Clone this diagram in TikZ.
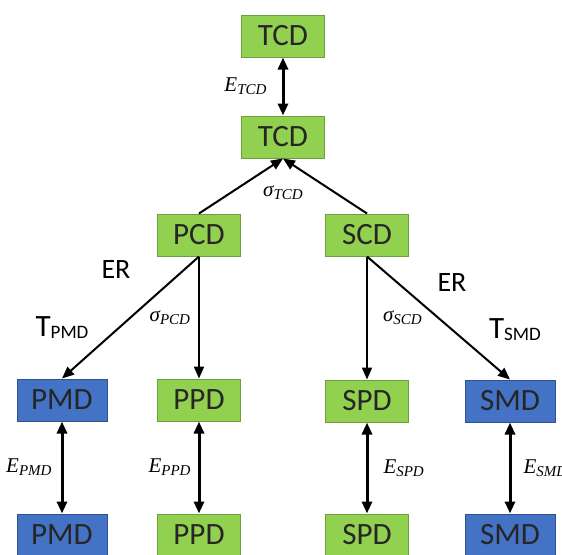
\documentclass[tikz,border=0pt]{standalone}
\usepackage{fontspec}
\setmainfont{Carlito}
\newfontfamily\labfont{Liberation Serif}
\usetikzlibrary{positioning,arrows.meta}

\definecolor{boxgreen}{RGB}{146,208,80}
\definecolor{edgegreen}{RGB}{110,158,62}
\definecolor{boxblue}{RGB}{68,114,196}
\definecolor{edgeblue}{RGB}{47,82,143}

\tikzstyle{g} = [rectangle, draw=edgegreen, fill=boxgreen, text centered, sharp corners, minimum width=41.5pt, minimum height=21pt, font=\fontsize{15.5}{17}\selectfont, text=black!85, line width=0.5pt, inner sep=1pt]
\tikzstyle{b} = [g, draw=edgeblue, fill=boxblue, minimum width=45pt]
\tikzstyle{l} = [draw, line width=1pt, -{Triangle[length=6pt,width=5pt]}]
\tikzstyle{d} = [draw, line width=1.5pt, {Triangle[length=6pt,width=5pt]}-{Triangle[length=6pt,width=5pt]}]
\tikzstyle{lab} = [font=\fontsize{14}{16}\selectfont]
\tikzstyle{m} = [font=\labfont\itshape\fontsize{10.5}{12}\selectfont, inner sep=1pt]

\newcommand{\tsub}[1]{{\fontsize{15.5}{18}\selectfont T}\raisebox{-1pt}{\fontsize{9.5}{11}\selectfont #1}}
\newcommand{\isub}[2]{#1\raisebox{-1.5pt}{\fontsize{7.5}{9}\selectfont #2}}

\begin{document}
\begin{tikzpicture}[on grid, auto]
    \useasboundingbox (0,0) rectangle (281pt,-277pt);
    % Place nodes
    \node [g] (tcdtop) at (141.5pt,-18pt) {TCD};
    \node [g, below=50.5pt of tcdtop] (tcd) {TCD};
    \node [g, below left=49pt and 42pt of tcd] (pcd) {PCD};
    \node [g, below right=49pt and 42pt of tcd] (scd) {SCD};
    \node [b, below left=82.5pt and 68.5pt of pcd] (pmd) {PMD};
    \node [g, below=82.5pt of pcd] (ppd) {PPD};
    \node [g, below=83pt of scd] (spd) {SPD};
    \node [b, below right=83pt and 71.5pt of scd] (smd) {SMD};
    \node [b, below=67.5pt of pmd] (pmdlow) {PMD};
    \node [g, below=67.5pt of ppd] (ppdlow) {PPD};
    \node [g, below=67pt of spd] (spdlow) {SPD};
    \node [b, below=67pt of smd] (smdlow) {SMD};

%Labels
    \node [m, below=28pt of tcd] (stcd) {\isub{σ}{TCD}};
    \node [lab, below left=17.5pt and 41.5pt of pcd] (erp) {ER};
    \node [lab, below right=24pt and 42.5pt of scd] (ers) {ER};
    \node [above=36pt of pmd] (tpmd) {\tsub{PMD}};
    \node [above right=35.5pt and 2.5pt of smd] (tsmd) {\tsub{SMD}};

    % Draw edges
    \path [d] (tcdtop) -- node [m, left=6.5pt] (etcd) {\isub{E}{TCD}} (tcd);
    \path [l] (pcd.north) -- (tcd.south);
    \path [l] (scd.north) -- (tcd.south);
    \path [l] (pcd.south) -- (pmd.north);
    \path [l] (pcd) -- node [m, left=3pt] (spcd) {\isub{σ}{PCD}} (ppd);
    \path [l] (scd) -- node [m, right=6.5pt] (sscd) {\isub{σ}{SCD}} (spd);
    \path [l] (scd.south) -- (smd.north);
    \path [d] (pmd) -- node [m, left=3.5pt] (epmd) {\isub{E}{PMD}} (pmdlow);
    \path [d] (ppd) -- node [m, left=2.5pt] (eppd) {\isub{E}{PPD}} (ppdlow);
    \path [d] (spd) -- node [m, right=6.5pt] (espd) {\isub{E}{SPD}} (spdlow);
    \path [d] (smd) -- node [m, right=5pt] (esmd) {\isub{E}{SMD}} (smdlow);

\end{tikzpicture}
\end{document}
